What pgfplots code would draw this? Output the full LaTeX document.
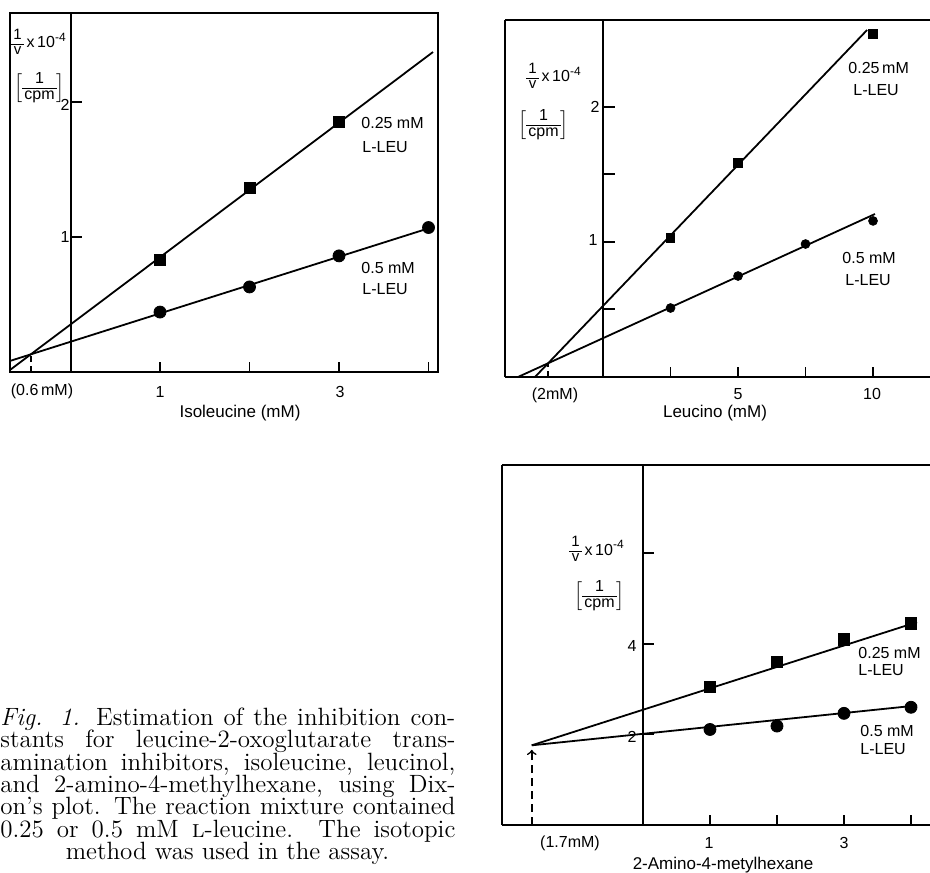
\documentclass[border=0pt]{standalone}
\usepackage{amsmath}
\usepackage{fontspec}
\usepackage{pgfplots}
\pgfplotsset{compat=1.18}
\newfontfamily\plotfont{Liberation Sans}

% one picture unit = one pixel of the 930x872 reference
\pgfplotsset{
  panel/.style={
    scale only axis, anchor=south west,
    axis line style={line width=1pt, black},
    tick style={line width=0.9pt, black},
    major tick length=5pt, tick align=inside,
    ytick=\empty, xticklabels={,,,},
  },
  fitline/.style={black, line width=0.9pt, no marks},
  sq/.style={only marks, mark=square*, black},
  ci/.style={only marks, mark=*, black},
}
\tikzset{
  lab/.style={font=\plotfont\fontsize{8}{9.5}\selectfont, inner sep=0pt},
  xlab/.style={font=\plotfont\fontsize{8.5}{10}\selectfont, inner sep=0pt},
  ytk/.style={line width=1pt},
}
% compact stacked fraction
\newcommand\stk[3]{\vcenter{\hbox{\fontsize{#1}{#1}\selectfont
  \renewcommand\arraystretch{0.92}\setlength\tabcolsep{1pt}%
  \begin{tabular}{c}#2\\\hline #3\end{tabular}}}}
\newcommand\ylabA{$\stk{7.5}{1}{v}\,\text{x\,10}^{\text{-4}}$}
\newcommand\ylabB{$\left[\stk{8}{1}{cpm}\right]$}
\newcommand\capline[2]{\node[anchor=base west, inner sep=0pt,
  font=\fontsize{12.5}{14}\selectfont] at (0,#1) {\makebox[227.5pt][s]{#2}};}

\begin{document}
\begin{tikzpicture}[x=0.5pt,y=-0.5pt]
\useasboundingbox (0,0) rectangle (930,872);
\coordinate (p1) at (10,372);
\coordinate (p2) at (505,377);
\coordinate (p3) at (502,825);

% Isoleucine
\begin{axis}[panel, at={(p1)}, width=214pt, height=179.5pt,
  xmin=-0.676, xmax=4.106, ymin=0, ymax=2.659,
  xtick={1,2,3,4}, xtick pos=left]
  \addplot[fitline] coordinates {(-0.676,0.015) (4.05,2.37)};
  \addplot[fitline] coordinates {(-0.676,0.082) (4.0,1.064)};
  \addplot[sq, mark size=2.75pt] coordinates {(1,0.83) (2,1.36) (3,1.85)};
  \addplot[ci, mark size=3pt] coordinates {(1,0.444) (2,0.63) (3,0.86) (4,1.07)};
  \draw[ytk] (axis cs:0,0) -- (axis cs:0,2.659);
  \draw[ytk] (axis cs:0,1) -- (axis cs:0.134,1);
  \draw[ytk] (axis cs:0,2) -- (axis cs:0.134,2);
  \draw[line width=0.8pt, dash pattern=on 3pt off 2pt] (axis cs:-0.444,0) -- (axis cs:-0.444,0.131);
\end{axis}

% Leucino
\begin{axis}[panel, at={(p2)}, width=212.5pt, height=178.5pt,
  axis x line*=box, axis y line*=left,
  xmin=-3.63, xmax=12.11, ymin=0, ymax=2.644,
  xtick={2.5,5,7.5,10}, xtick pos=left]
  \addplot[fitline] coordinates {(-2.52,0) (9.78,2.57)};
  \addplot[fitline] coordinates {(-3.15,0) (10.07,1.207)};
  \addplot[sq, mark size=2.1pt] coordinates {(2.5,1.03) (5,1.585) (10,2.54)};
  \addplot[ci, mark size=2.2pt] coordinates {(2.5,0.511) (5,0.748) (7.5,0.985) (10,1.156)};
  \draw[ytk] (axis cs:0,0) -- (axis cs:0,2.644);
  \draw[ytk] (axis cs:0,0.5) -- (axis cs:0.44,0.5);
  \draw[ytk] (axis cs:0,1) -- (axis cs:0.44,1);
  \draw[ytk] (axis cs:0,1.5) -- (axis cs:0.44,1.5);
  \draw[ytk] (axis cs:0,2) -- (axis cs:0.44,2);
  \draw[line width=0.8pt, dash pattern=on 3pt off 2pt] (axis cs:-2.03,0) -- (axis cs:-2.03,0.102);
\end{axis}

% 2-Amino-4-metylhexane
\begin{axis}[panel, at={(p3)}, width=214pt, height=180pt,
  axis x line*=box, axis y line*=left,
  xmin=-2.104, xmax=4.284, ymin=0, ymax=7.95,
  xtick={1,2,3,4}, xtick pos=left]
  \addplot[fitline] coordinates {(-1.66,1.76) (4.09,4.48)};
  \addplot[fitline] coordinates {(-1.66,1.76) (4.09,2.64)};
  \addplot[sq, mark size=2.9pt] coordinates {(1,3.05) (2,3.6) (3,4.1) (4,4.45)};
  \addplot[ci, mark size=3pt] coordinates {(1,2.11) (2,2.185) (3,2.466) (4,2.6)};
  \draw[ytk] (axis cs:0,0) -- (axis cs:0,7.95);
  \draw[ytk] (axis cs:0,2) -- (axis cs:0.164,2);
  \draw[ytk] (axis cs:0,4) -- (axis cs:0.164,4);
  \draw[ytk] (axis cs:0,6) -- (axis cs:0.164,6);
  \draw[line width=0.8pt, dash pattern=on 4pt off 2.5pt, ->] (axis cs:-1.66,0) -- (axis cs:-1.66,1.66);
\end{axis}

% texts, panel 1
\node[xlab] at (240,413) {Isoleucine (mM)};
\node[lab] at (42,391) {(0.6\,mM)};
\node[lab] at (160,392) {1};
\node[lab] at (340,392) {3};
\node[lab] at (65,237) {1};
\node[lab] at (65,105) {2};
\node[lab,anchor=west] at (11,44) {\ylabA};
\node[lab,anchor=west] at (14,88) {\ylabB};
\node[lab,anchor=west] at (361,123) {0.25 mM};
\node[lab,anchor=west] at (362,147) {L-LEU};
\node[lab,anchor=west] at (361,268) {0.5 mM};
\node[lab,anchor=west] at (362,289) {L-LEU};

% texts, panel 2
\node[xlab] at (715,413) {Leucino (mM)};
\node[lab] at (555,395) {(2mM)};
\node[lab] at (738,394) {5};
\node[lab] at (872,394) {10};
\node[lab] at (595,107) {2};
\node[lab] at (593,240) {1};
\node[lab,anchor=west] at (526,78) {\ylabA};
\node[lab,anchor=west] at (518,125) {\ylabB};
\node[lab,anchor=west] at (848,68) {0.25\,mM};
\node[lab,anchor=west] at (853,90) {L-LEU};
\node[lab,anchor=west] at (842,258) {0.5 mM};
\node[lab,anchor=west] at (845,280) {L-LEU};

% texts, panel 3
\node[xlab] at (723,865) {2-Amino-4-metylhexane};
\node[lab] at (570,843) {(1.7mM)};
\node[lab] at (709,843) {1};
\node[lab] at (844,843) {3};
\node[lab] at (632,646) {4};
\node[lab] at (632,737) {2};
\node[lab,anchor=west] at (569,551) {\ylabA};
\node[lab,anchor=west] at (574,596) {\ylabB};
\node[lab,anchor=west] at (858,653) {0.25 mM};
\node[lab,anchor=west] at (858,670) {L-LEU};
\node[lab,anchor=west] at (860,731) {0.5 mM};
\node[lab,anchor=west] at (860,749) {L-LEU};

% caption
\capline{725}{\textit{Fig. 1.} Estimation of the inhibition con-}
\capline{747}{stants for leucine-2-oxoglutarate trans-}
\capline{770}{amination inhibitors, isoleucine, leucinol,}
\capline{792}{and 2-amino-4-methylhexane, using Dix-}
\capline{814}{on's plot. The reaction mixture contained}
\capline{837}{0.25 or 0.5 mM \textsc{l}-leucine. The isotopic}
\node[anchor=base, inner sep=0pt, font=\fontsize{12.5}{14}\selectfont] at (227.5,859) {method was used in the assay.};
\end{tikzpicture}
\end{document}
